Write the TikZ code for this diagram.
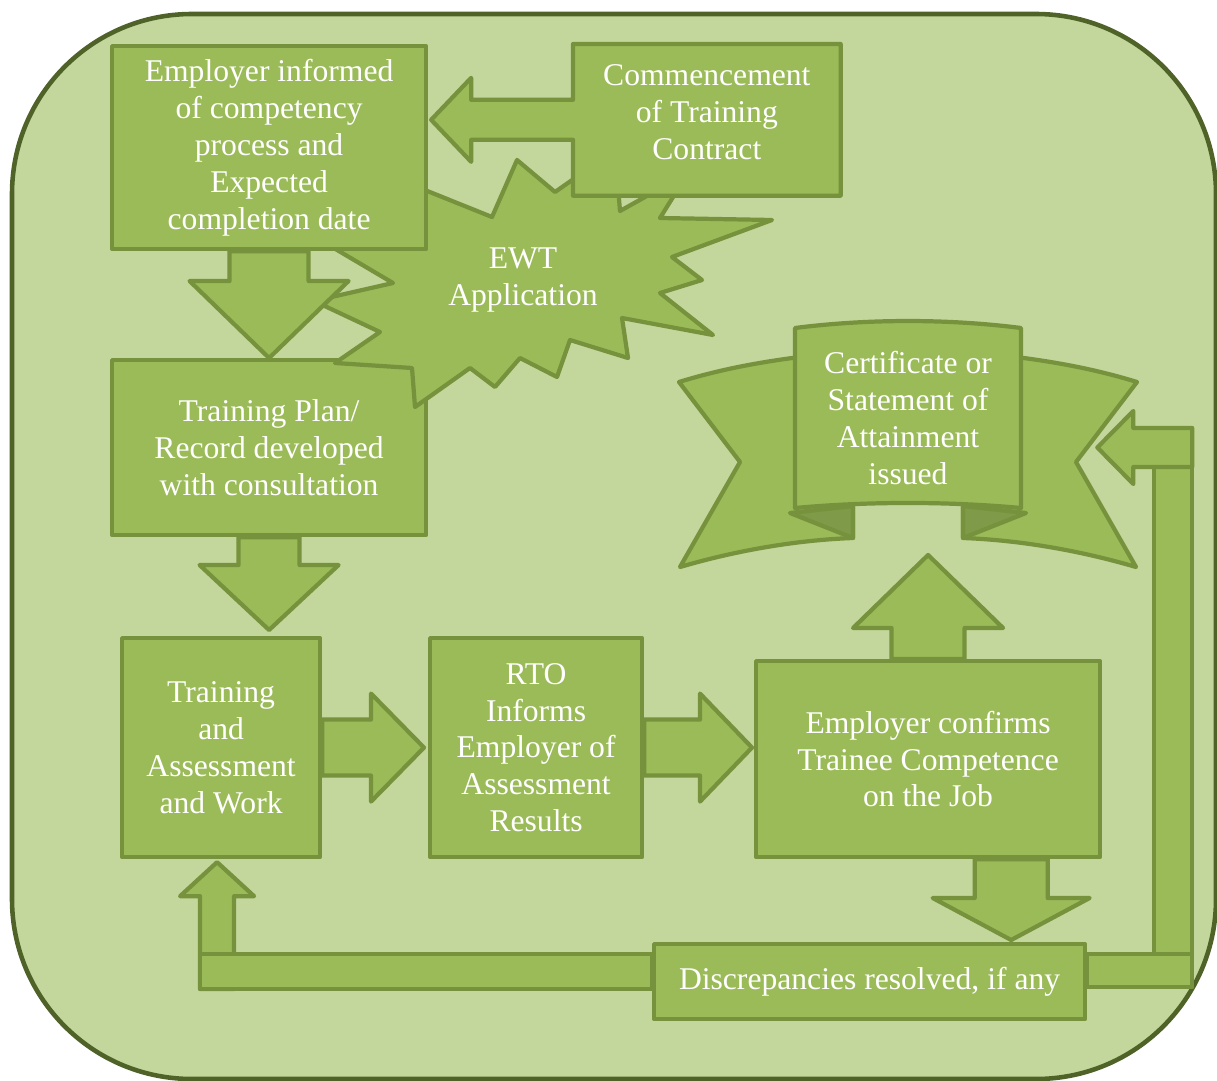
\documentclass[tikz,border=0pt]{standalone}
\usepackage{fontspec}
\setmainfont{Liberation Serif}
\usetikzlibrary{calc}
\pgfdeclarelayer{bg}\pgfdeclarelayer{lone}\pgfdeclarelayer{ltwo}\pgfdeclarelayer{lthree}
\pgfsetlayers{bg,lone,ltwo,lthree,main}
\definecolor{bgC}{HTML}{C3D69B}
\definecolor{borderC}{HTML}{4F6228}
\definecolor{boxC}{HTML}{9BBB59}
\definecolor{lineC}{HTML}{76923C}
\definecolor{foldC}{HTML}{7F9B49}
\newcommand\dgfont{\fontsize{18}{21}\selectfont}
\tikzset{
  shapeline/.style={draw=lineC, line width=2.4pt, line join=round, fill=boxC},
  box/.style={shapeline, rectangle, inner sep=0pt, anchor=north west, text=white, font=\dgfont, align=center},
  txt/.style={inner sep=0pt, text=white, font=\dgfont, align=center},
}
% vertical block arrow: start, tip, shaft half width, head half width, head-back offset (signed)
\newcommand\vblock[5]{\draw[shapeline] ($(#1)+(-#3,0)$) -- ($(#2)+(-#3,#5)$) -- ($(#2)+(-#4,#5)$) -- (#2) -- ($(#2)+(#4,#5)$) -- ($(#2)+(#3,#5)$) -- ($(#1)+(#3,0)$) -- cycle;}
% horizontal block arrow
\newcommand\hblock[5]{\draw[shapeline] ($(#1)+(0,-#3)$) -- ($(#2)+(#5,-#3)$) -- ($(#2)+(#5,-#4)$) -- (#2) -- ($(#2)+(#5,#4)$) -- ($(#2)+(#5,#3)$) -- ($(#1)+(0,#3)$) -- cycle;}
\begin{document}
\begin{tikzpicture}[x=0.02cm, y=-0.02cm]
\useasboundingbox (0,0) rectangle (1217,1081);
\begin{pgfonlayer}{bg}
  \draw[line width=2.6pt, draw=borderC, fill=bgC, rounded corners=3.6cm] (12,14) rectangle (1216,1079);
\end{pgfonlayer}
\begin{pgfonlayer}{lone}
  \node[box, minimum width=6.28cm, minimum height=3.5cm] (b2) at (110,358) {Training Plan/\\Record developed\\with consultation};
\end{pgfonlayer}
% nodes
\node[box, minimum width=6.28cm, minimum height=4.06cm] (b1) at (110,44) {Employer informed\\of competency\\process and\\Expected\\completion date};
\node[inner sep=0pt, anchor=north west, minimum width=5.34cm, minimum height=3.02cm] (c) at (573,44) {};
\node[txt] (ctext) at ($(c.center)+(0,-7.5)$) {Commencement\\of Training\\Contract};
\node[txt] (ewt) at (523,280) {EWT\\Application};
\node[box, minimum width=3.96cm, minimum height=4.38cm] (b3) at (120,636) {Training\\and\\Assessment\\and Work};
\node[box, minimum width=4.24cm, minimum height=4.38cm] (b4) at (428,636) {RTO\\Informs\\Employer of\\Assessment\\Results};
\node[box, minimum width=6.88cm, minimum height=3.92cm] (b5) at (754,659) {Employer confirms\\Trainee Competence\\on the Job};
\node[box, minimum width=8.62cm, minimum height=1.5cm] (D) at (652,942) {Discrepancies resolved, if any};
\node[txt, minimum width=4.52cm, minimum height=3.6cm] (cert) at (908,418) {Certificate or\\Statement of\\Attainment\\issued};
% helper coordinates
\coordinate (tc) at ($(b1.east |- c.west)+(3,0)$);
\coordinate (t2) at ($(b2.south |- b3.north)+(0,-6)$);
\coordinate (t3) at ($(b4.west)+(-4,0)$);
\coordinate (t4) at ($(b5.west |- b4.east)+(-2,0)$);
\coordinate (t5) at ($(b5.north)+(0,-104)$);
\coordinate (s6) at ($(b5.south east)+(-91,0)$);
\coordinate (t6) at ($(s6 |- D.north)+(0,-2)$);
\coordinate (t7) at ($(b3.south)+(-4,3)$);
\coordinate (s7) at ($(t7 |- D.west)+(0,7.5)$);
\coordinate (rr) at ($(D.east)+(105,5.5)$);
\coordinate (t8) at ($(cert.east)+(76,29.5)$);
\coordinate (s8) at (rr |- t8);
% starburst
\begin{pgfonlayer}{ltwo}
  \begin{scope}[shift={(ewt.center)}]
    \draw[shapeline] (-6,-120) -- (32,-88) -- (92,-130) -- (97,-69) -- (165,-107) -- (137,-62)
      -- (249,-60) -- (149,-23) -- (179,0) -- (137,13) -- (190,55) -- (99,38) -- (105,78)
      -- (47,60) -- (34,97) -- (-3,78) -- (-28,107) -- (-53,88) -- (-108,127) -- (-111,88)
      -- (-188,83) -- (-143,52) -- (-209,21) -- (-130,3) -- (-213,-46) -- (-163,-65)
      -- (-143,-108) -- (-31,-63) -- cycle;
  \end{scope}
\end{pgfonlayer}
\begin{pgfonlayer}{lthree}
  % callout of Commencement box
  \draw[shapeline] (c.north west) -- (c.north east) -- (c.south east) -- (c.south west)
    -- ($(c.west)+(0,20)$) -- ($(tc)+(40,20)$) -- ($(tc)+(40,42)$) -- (tc)
    -- ($(tc)+(40,-42)$) -- ($(tc)+(40,-20)$) -- ($(c.west)+(0,-20)$) -- cycle;
  \vblock{b1.south}{b2.north}{39.5}{79.5}{-77}
  \vblock{b2.south}{t2}{30.5}{69.5}{-65}
  \hblock{b3.east}{t3}{28}{54}{-53}
  \hblock{b4.east}{t4}{28}{54}{-52}
  \vblock{b5.north}{t5}{36.5}{75}{73}
  \vblock{s6}{t6}{36.5}{78.5}{-42}
  % ribbon
  \begin{scope}[shift={(cert.center)}]
    \draw[shapeline] (-100,-62) .. controls (-150,-56) and (-190,-48) .. (-229,-36) -- (-168,44) -- (-228,149)
      .. controls (-170,132) and (-110,122) .. (-55,120) -- (-55,80) -- (-100,80) -- cycle;
    \draw[shapeline] (100,-62) .. controls (150,-56) and (190,-48) .. (229,-36) -- (168,44) -- (228,149)
      .. controls (170,132) and (110,122) .. (55,120) -- (55,80) -- (100,80) -- cycle;
    \draw[shapeline, fill=foldC] (-118,95) -- (-55,88) -- (-55,120) -- cycle;
    \draw[shapeline, fill=foldC] (118,95) -- (55,88) -- (55,120) -- cycle;
    \draw[shapeline] (-113,-90) .. controls (-40,-99.3) and (40,-99.3) .. (113,-90) -- (113,90)
      .. controls (40,83.3) and (-40,83.3) .. (-113,90) -- cycle;
  \end{scope}
  % feedback paths
  \vblock{s7}{t7}{17}{37}{34}
  \draw[shapeline] ($(s7)+(-17,-35)$) rectangle ($(D.west)+(0,7.5)$);
  \draw[shapeline] ($(s8)+(-38,-19.5)$) rectangle (rr);
  \draw[shapeline] ($(D.east)+(0,-27.5)$) rectangle (rr);
  \hblock{s8}{t8}{19.5}{36.5}{36}
\end{pgfonlayer}
\end{tikzpicture}
\end{document}
